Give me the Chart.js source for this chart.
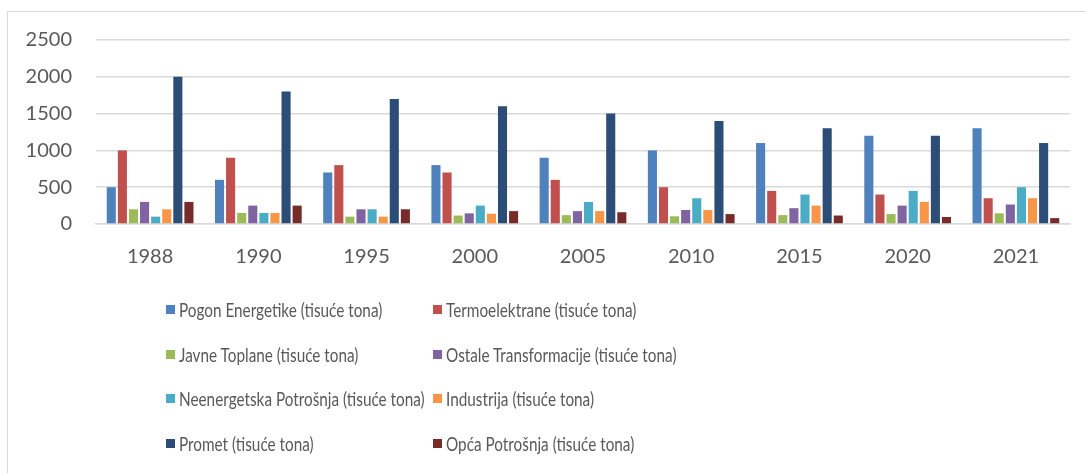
<!DOCTYPE html>
<html lang="hr">
<head>
  <meta charset="UTF-8" />
  <title>Potrošnja po sektorima</title>
  <script src="https://cdn.jsdelivr.net/npm/chart.js"></script>
  <style>
    html, body { margin: 0; padding: 0; background: #fff; }
    body { width: 1086px; height: 473px; position: relative; overflow: hidden; font-family: Lato, sans-serif; }
    #frame { position: absolute; left: 7px; top: 11px; width: 1200px; height: 600px; border-left: 1px solid #d9d9d9; border-top: 1px solid #d9d9d9; }
    #wrap { position: absolute; left: 0; top: 0; width: 1086px; height: 290px; }
    #legend { position: absolute; left: 166px; top: 287px; display: grid; grid-template-columns: 267px 267px; grid-auto-rows: 44.7px; align-items: center; }
    .item { display: flex; align-items: center; font-size: 19.5px; color: #595959; white-space: nowrap; }
    .box { width: 9px; height: 9px; margin-right: 4px; flex: none; }
    .txt { display: inline-block; transform: scaleX(0.785); transform-origin: left center; }
  </style>
</head>
<body>
  <div id="frame"></div>
  <div id="wrap"><canvas id="chart"></canvas></div>
  <div id="legend"></div>

  <script>
    // godine
    const years = ['1988', '1990', '1995', '2000', '2005', '2010', '2015', '2020', '2021'];

    // tisuće tona, očitano sa slike
    const pogonEnergetike = [500, 600, 700, 800, 900, 1000, 1100, 1200, 1300];
    const termoelektrane = [1000, 900, 800, 700, 600, 500, 450, 400, 350];
    const javneToplane = [200, 150, 100, 115, 120, 105, 120, 135, 145];
    const ostaleTransformacije = [300, 250, 200, 145, 175, 190, 215, 250, 265];
    const neenergetska = [100, 150, 200, 250, 300, 350, 400, 450, 500];
    const industrija = [200, 150, 100, 140, 175, 190, 250, 300, 350];
    const promet = [2000, 1800, 1700, 1600, 1500, 1400, 1300, 1200, 1100];
    const opcaPotrosnja = [300, 250, 200, 175, 160, 135, 115, 95, 80];

    const yTicks = [0, 500, 1000, 1500, 2000, 2500];

    const textColor = '#595959';
    const gridColor = '#d9d9d9';

    const datasets = [
      { label: 'Pogon Energetike (tisuće tona)', data: pogonEnergetike, backgroundColor: '#4f81bd' },
      { label: 'Termoelektrane (tisuće tona)', data: termoelektrane, backgroundColor: '#c0504d' },
      { label: 'Javne Toplane (tisuće tona)', data: javneToplane, backgroundColor: '#9bbb59' },
      { label: 'Ostale Transformacije (tisuće tona)', data: ostaleTransformacije, backgroundColor: '#8064a2' },
      { label: 'Neenergetska Potrošnja (tisuće tona)', data: neenergetska, backgroundColor: '#4bacc6' },
      { label: 'Industrija (tisuće tona)', data: industrija, backgroundColor: '#f79646' },
      { label: 'Promet (tisuće tona)', data: promet, backgroundColor: '#2c4d75' },
      { label: 'Opća Potrošnja (tisuće tona)', data: opcaPotrosnja, backgroundColor: '#772c2a' },
    ];

    const ctx = document.getElementById('chart').getContext('2d');
    const chart = new Chart(ctx, {
      type: 'bar',
      data: { labels: years, datasets: datasets },
      options: {
        responsive: true,
        maintainAspectRatio: false,
        animation: false,
        layout: { padding: { top: 40, right: 16, bottom: 0, left: 0 } },
        datasets: { bar: { categoryPercentage: 0.82, barPercentage: 0.82 } },
        plugins: { legend: { display: false }, tooltip: { enabled: false } },
        scales: {
          x: {
            grid: { display: false, drawTicks: false },
            border: { color: gridColor, width: 1.5 },
            ticks: { color: textColor, font: { family: 'Lato', size: 20 }, padding: 21 },
          },
          y: {
            min: 0,
            max: 2500,
            afterFit: (scale) => { scale.width = 96; },
            afterBuildTicks: (scale) => { scale.ticks = yTicks.map(v => ({ value: v })); },
            grid: { color: gridColor, lineWidth: 1.5, drawTicks: false },
            border: { display: false },
            ticks: {
              color: textColor,
              font: { family: 'Lato', size: 20 },
              padding: 24,
              callback: (value) => String(value),
            },
          },
        },
      },
    });

    // legenda u dva stupca
    const legend = document.getElementById('legend');
    chart.data.datasets.forEach((ds) => {
      legend.innerHTML += `
        <div class="item"><span class="box" style="background:${ds.backgroundColor}"></span><span class="txt">${ds.label}</span></div>
      `;
    });
  </script>
</body>
</html>
